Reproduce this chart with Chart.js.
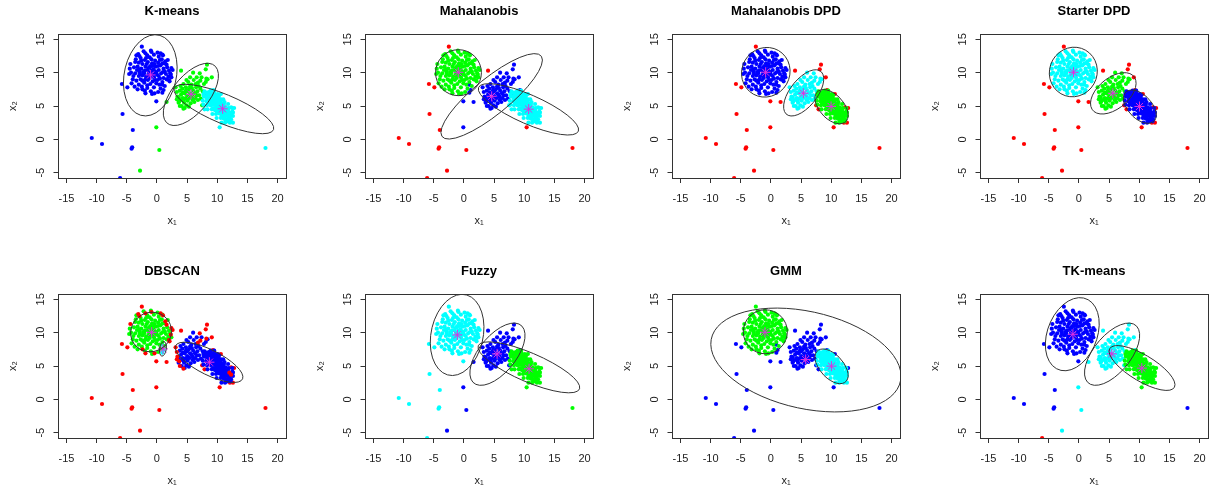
<!DOCTYPE html>
<html>
<head>
<meta charset="utf-8">
<script src="https://cdn.jsdelivr.net/npm/chart.js@4.4.0/dist/chart.umd.min.js"></script>
<style>
  html, body { margin: 0; padding: 0; background: #fff; }
  body { width: 1209px; height: 493px; position: relative; overflow: hidden; }
  canvas { position: absolute; }
</style>
</head>
<body>
<script>
// axis ticks shared by all panels
const xTicks = [-15, -10, -5, 0, 5, 10, 15, 20];
const yTicks = [-5, 0, 5, 10, 15];

// cluster around (-1, 10)
const aCore = [
  [-2.2,13.2],[-1.0,13.3],[0.1,13.0],[-0.5,12.7],[-1.6,12.6],[0.3,12.4],[-2.7,12.2],[-1.2,12.3],
  [-3.5,12.0],[-2.0,11.9],[-0.3,11.8],[0.8,12.0],[-1.5,11.6],[0.2,11.5],[1.2,11.4],[-3.0,11.5],[-2.4,11.3],[-0.8,11.4],
  [-3.8,10.8],[-3.2,10.9],[-1.9,10.9],[-1.1,11.0],[-0.2,10.9],[0.6,11.1],[1.7,10.8],[2.0,10.3],[-2.6,10.6],[-0.6,10.5],
  [0.3,10.4],[1.1,10.6],[-1.6,10.4],[-4.3,10.0],[-3.6,9.9],[-2.9,10.1],[-2.1,9.9],[-1.3,10.0],[-0.8,9.8],[-0.1,10.0],
  [0.7,9.9],[1.5,9.8],[2.2,9.9],[-3.0,9.5],[-1.8,9.4],[-0.5,9.3],[0.3,9.5],[1.1,9.2],[-2.4,9.6],[-1.0,9.6],
  [-4.0,9.0],[-3.4,8.8],[-2.7,9.0],[-1.5,8.9],[-0.7,8.7],[0.1,8.9],[0.9,8.6],[1.6,9.0],[-2.1,8.5],[-1.1,8.3],
  [0.4,8.2],[-3.0,8.2],[-3.7,7.9],[-2.5,7.9],[-1.6,7.7],[-0.5,7.8],[0.6,7.6],[-2.0,7.3],[-1.0,7.2],[0.2,7.1],[-3.2,7.5],
  [-1.4,10.7],[-0.3,10.2],[0.0,9.7],[-2.0,10.3],[-1.2,9.2],[-0.4,11.3],[-2.6,11.8],[0.9,12.7],[-3.6,11.6],
  [-1.8,12.2],[-0.9,12.0],[0.5,11.9],[-2.9,10.5],[-3.9,9.5],[-0.1,8.4],[1.3,10.2],[-1.6,8.1],[-2.4,8.8],[1.9,9.4],
  [-1.7,11.3],[-0.7,11.0],[0.9,11.4],[-2.3,10.1],[-0.4,9.7],[0.5,9.1],[-1.4,9.6],[-2.8,9.8],[-3.3,10.4],[-0.9,10.3],
  [-1.9,9.0],[-0.3,8.9],[1.0,10.1],[-1.2,10.8],[0.2,11.0],[-4.6,9.8],[-4.2,8.4],[-3.4,12.6],[1.8,11.9],[-0.8,6.8],
  [1.3,8.0],[-4.5,10.6],[2.4,9.3]
];
const aRim = [
  [-3.1,12.8],[-2.9,12.5],[-1.9,12.9],[-0.9,13.1],[0.6,12.9],[1.0,12.6],[1.4,11.7],[1.6,11.2],[2.4,10.7],
  [2.6,10.4],[2.3,9.7],[2.0,8.9],[2.1,8.7],[-4.4,11.3],[-2.4,7.5],[-1.9,6.9],[-0.4,6.9]
];

// cluster around (5.5, 7)
const bCore = [
  [5.5,6.9],[5.0,6.5],[6.0,7.3],[4.6,6.9],[5.9,6.4],[5.3,7.5],[6.5,7.8],[4.3,6.2],[5.1,5.8],[6.3,6.9],
  [4.8,7.8],[5.7,8.2],[6.9,8.0],[4.0,6.7],[4.5,5.5],[5.6,5.4],[6.7,7.2],[7.2,7.6],[3.8,7.3],[4.2,7.6],
  [5.2,8.6],[6.1,8.9],[6.6,9.3],[7.4,9.3],[4.9,5.1],[4.1,5.0],[5.9,5.9],[6.4,6.2],[7.0,6.6],[7.6,7.2],
  [3.6,6.3],[4.7,6.1],[5.4,6.2],[6.2,5.6],[5.0,7.2],[5.8,7.7],[4.4,8.3],[3.9,8.0],[6.8,5.9],[7.3,6.1],
  [7.8,8.3],[8.1,8.6],[3.6,5.5],[4.6,4.7],[5.3,4.9],[6.0,10.0],[5.5,9.3],[8.4,9.0],[7.9,6.6],[4.3,7.0],
  [5.7,6.7],[6.4,8.3],[4.9,8.9],[3.9,5.9],[5.2,6.3],[6.1,6.1],[4.8,7.3],[5.5,7.9],[6.6,6.6],[4.4,5.8]
];
const bRim = [
  [3.1,7.8],[3.3,7.1],[3.4,6.4],[3.3,6.0],[3.7,5.7],[3.8,5.0],[4.4,4.6],[6.8,8.5],[7.2,8.8],[7.1,9.9],[8.2,9.1]
];

// cluster around (10, 5)
const cCore = [
  [7.7,6.8],[7.9,7.2],[7.8,6.4],[8.2,6.5],[8.1,7.0],[8.3,6.1],[8.2,5.7],[8.5,6.7],[8.6,6.2],[8.7,5.8],
  [8.5,5.4],[8.6,7.1],[9.0,6.9],[8.9,6.4],[9.1,6.0],[9.0,5.5],[8.9,5.1],[9.2,6.6],[9.4,6.5],[9.3,6.0],
  [9.5,5.6],[9.4,5.2],[9.3,4.7],[9.5,6.9],[9.6,4.4],[9.8,6.3],[9.7,5.8],[9.9,5.4],[9.8,5.0],[9.7,4.6],
  [9.9,4.2],[9.8,6.7],[10.0,5.9],[10.2,6.0],[10.1,5.5],[10.3,5.1],[10.2,4.7],[10.1,4.3],[10.3,3.9],[10.2,6.4],
  [10.0,5.0],[10.4,4.5],[10.6,5.6],[10.5,5.1],[10.7,4.7],[10.6,4.3],[10.5,3.9],[10.7,3.5],[10.6,6.0],[10.8,5.3],
  [11.0,5.2],[10.9,4.7],[11.1,4.3],[11.0,3.9],[10.9,3.5],[11.1,3.1],[11.2,5.6],[11.4,4.8],[11.3,4.3],[11.5,3.9],
  [11.4,3.5],[11.3,3.1],[11.5,2.8],[11.8,4.4],[11.7,3.9],[11.9,3.5],[11.8,3.1],[11.7,2.7],[12.2,3.9],[12.1,3.4],
  [12.3,3.0],[12.2,2.7],[12.6,3.5],[12.5,4.2],[9.6,5.3],[10.4,5.3],[10.0,4.6],[9.2,5.7],[10.8,4.0],[9.7,6.1],
  [10.3,4.1],[11.2,4.5],[8.8,6.0],[10.9,5.0],[9.5,6.2],[10.1,6.8],[9.9,4.9],[10.5,4.7],[11.2,3.7],[9.1,6.3],
  [10.7,4.2],[9.4,5.8],[10.3,5.7],[11.5,4.2],
  [9.5,7.3],[7.7,5.2],[10.3,6.6],[8.4,4.5],[11.0,6.0],[9.2,3.8],[11.8,5.3],[9.9,3.2],[12.5,4.7],[10.7,2.5],
  [9.6,6.6],[8.3,5.1],[10.4,6.0],[9.1,4.5],[11.1,5.3],[9.8,3.8],[11.9,4.7],[10.6,3.2],[12.6,4.0],[11.3,2.5],
  [8.9,7.3],[7.6,5.8]
];
const cRim = [[12.0,4.0],[12.3,3.7]];

// scattered points (last three: the small group near (1, 7.5))
const strays = [
  [-2.5,13.9],[-5.8,8.3],[-4.9,7.8],[-5.7,3.8],[-4.0,1.4],[-10.8,0.2],[-9.1,-0.7],[-4.1,-1.2],[-4.2,-1.4],
  [-0.1,1.8],[0.4,-1.6],[-2.8,-4.7],[-6.1,-5.8],[-0.1,5.7],[1.6,5.6],[4.0,10.3],[8.3,11.2],[8.1,10.5],
  [9.1,9.3],[9.3,7.4],[10.6,6.8],[7.5,5.1],[7.9,4.5],[12.3,4.8],[12.8,4.7],[12.1,2.5],[12.6,2.5],[10.4,1.8],
  [18.0,-1.3],[0.9,8.2],[1.1,7.4],[0.9,7.0]
];

const titles = ['K-means', 'Mahalanobis', 'Mahalanobis DPD', 'Starter DPD', 'DBSCAN', 'Fuzzy', 'GMM', 'TK-means'];

// colour codes for aCore, aRim, bCore, bRim, cCore, cRim
const groupCols = ['bbggcc', 'ggbbcc', 'bbccgg', 'ccggbb', 'grbrbr', 'ccbbgg', 'ggbbcc', 'bbccgg'];
// colour codes for each stray point
const strayCols = [
  'bbbbbbbbbgggbbgggggccgcccccccbbb',
  'rrrrrrrrrbrrrbbrbbbbcccccccrrbbb',
  'rrrrrrrrrrrrrrrrrrrrrrrrrrrrrbbb',
  'rrrrrrrrrrrrrrrrrrrrrrrrrrrrrccc',
  'rrrrrrrrrrrrrrrrrrrrrrrrrrrrrccc',
  'cccccccccbbbccbbbbbbgbgggggggccc',
  'gbbbbbbbbbbbbbbbbbbbbbbcbccbbbbb',
  'bbbbbbbbbcccrbccccccgcggggggbbbb'
];

const centers = [
  [[-1.05,9.66],[5.65,6.77],[10.9,4.58]],
  [[-0.94,10.06],[4.6,6.45],[10.74,4.53]],
  [[-0.88,10.06],[5.38,6.92],[9.97,4.93]],
  [[-0.9,10.06],[5.62,6.92],[10.04,4.93]],
  [[-0.88,10.06],[1.0,7.57],[8.7,5.57]],
  [[-1.1,9.66],[5.5,6.82],[10.8,4.58]],
  [[-0.99,10.06],[5.76,5.97],[10.03,4.98]],
  [[-1.0,9.76],[5.45,6.82],[10.43,4.68]]
];

// [centre x, centre y, semi-major, semi-minor, angle in degrees]
const ellipses = [
  [[-1.1,9.6,6.2,4.3,75],[5.63,6.74,5.85,2.92,46],[11.1,4.55,8.8,2.2,-20.5]],
  [[-0.9,10.0,3.8,3.45,0],[4.6,6.45,10.2,2.8,36],[10.7,4.5,8.9,2.2,-21.5]],
  [[-0.85,10.06,4.05,3.7,15],[5.43,6.97,4.3,2.15,47],[10.05,4.9,3.25,1.9,-41]],
  [[-0.93,10.1,4.0,3.7,15],[5.7,6.9,4.26,2.4,34],[10.1,4.9,3.2,1.85,-40]],
  [[-0.97,10.1,3.4,2.95,10],[1.0,7.57,1.1,0.55,80],[8.65,5.55,6.08,1.9,-24]],
  [[-1.13,9.66,6.2,4.3,75],[5.56,6.77,5.85,2.92,46],[10.77,4.8,9.0,2.2,-21]],
  [[-0.93,10.13,3.65,3.3,0],[5.8,5.9,16.0,7.3,-11],[10.05,4.95,3.3,1.85,-42]],
  [[-1.1,9.77,5.8,4.05,63],[5.5,6.77,5.85,2.92,46],[10.46,4.7,6.1,2.0,-28]]
];

const palette = { b: '#0000ff', g: '#00ff00', c: '#00ffff', r: '#ff0000' };
const font = "'Liberation Sans', Arial, Helvetica, sans-serif";

// box round the plot region, rotated y tick labels, ellipse outlines
const framePlugin = {
  id: 'frame',
  afterDatasetsDraw(chart, args, opts) {
    const { ctx, chartArea: ca, scales: { x, y } } = chart;
    const sx = x.getPixelForValue(1) - x.getPixelForValue(0);
    const sy = y.getPixelForValue(1) - y.getPixelForValue(0);
    ctx.save();
    ctx.beginPath();
    ctx.rect(ca.left, ca.top, ca.right - ca.left, ca.bottom - ca.top);
    ctx.clip();
    ctx.strokeStyle = '#333';
    ctx.lineWidth = 1;
    opts.list.forEach(([cx, cy, a, b, ang]) => {
      ctx.save();
      ctx.translate(x.getPixelForValue(cx), y.getPixelForValue(cy));
      ctx.scale(sx, sy);
      ctx.rotate(ang * Math.PI / 180);
      ctx.beginPath();
      ctx.ellipse(0, 0, a, b, 0, 0, Math.PI * 2);
      ctx.restore();
      ctx.stroke();
    });
    ctx.restore();
  },
  afterDraw(chart) {
    const { ctx, chartArea: ca, scales: { y } } = chart;
    ctx.save();
    ctx.strokeStyle = '#333';
    ctx.lineWidth = 1;
    ctx.strokeRect(Math.round(ca.left) + 0.5, Math.round(ca.top) + 0.5,
      Math.round(ca.right - ca.left), Math.round(ca.bottom - ca.top));
    ctx.fillStyle = '#222';
    ctx.font = '11px ' + font;
    ctx.textAlign = 'center';
    ctx.textBaseline = 'middle';
    y.ticks.forEach(t => {
      ctx.save();
      ctx.translate(40.5, y.getPixelForValue(t.value));
      ctx.rotate(-Math.PI / 2);
      ctx.fillText(String(t.value), 0, 0);
      ctx.restore();
    });
    ctx.restore();
  }
};

titles.forEach((title, i) => {
  const col = i % 4, row = Math.floor(i / 4);
  const cv = document.createElement('canvas');
  cv.width = 307;
  cv.height = 260;
  cv.style.left = Math.round(col * 307.2) + 'px';
  cv.style.top = Math.round(row * 260.3) + 'px';
  document.body.appendChild(cv);

  const pts = [], cols = [];
  strays.forEach((p, k) => { pts.push({ x: p[0], y: p[1] }); cols.push(palette[strayCols[i][k]]); });
  [aCore, aRim, bCore, bRim, cCore, cRim].forEach((g, k) => {
    g.forEach(p => { pts.push({ x: p[0], y: p[1] }); cols.push(palette[groupCols[i][k]]); });
  });

  new Chart(cv, {
    type: 'scatter',
    data: {
      datasets: [
        { data: pts, pointBackgroundColor: cols, pointBorderWidth: 0, pointRadius: 2.1, order: 2 },
        {
          data: centers[i].map(p => ({ x: p[0], y: p[1] })),
          pointStyle: 'star', pointRadius: 5, pointBorderColor: '#e030e0',
          pointBackgroundColor: 'transparent', pointBorderWidth: 1, order: 1
        }
      ]
    },
    options: {
      responsive: false,
      animation: false,
      devicePixelRatio: 1,
      events: [],
      layout: { padding: { left: 0, right: 21, top: 0, bottom: 0 } },
      plugins: {
        legend: { display: false },
        tooltip: { enabled: false },
        title: {
          display: true, text: title, fullSize: false, color: '#000',
          font: { family: font, size: 13, weight: 'bold' },
          padding: { top: 3.5, bottom: 14.9 }
        },
        frame: { list: ellipses[i] }
      },
      scales: {
        x: {
          type: 'linear', min: -16.4, max: 21.4,
          afterBuildTicks: s => { s.ticks = xTicks.map(v => ({ value: v })); },
          afterFit: s => { s.height = 82; },
          border: { display: false },
          grid: { drawOnChartArea: false, drawTicks: true, tickLength: 5, color: '#333' },
          ticks: { font: { family: font, size: 11 }, color: '#222', padding: 9, maxRotation: 0, autoSkip: false },
          title: { display: true, text: 'x₁', color: '#222', font: { family: font, size: 11 }, padding: { top: 0, bottom: 32.5 } }
        },
        y: {
          type: 'linear', min: -5.8, max: 15.8,
          afterBuildTicks: s => { s.ticks = yTicks.map(v => ({ value: v })); },
          afterFit: s => { s.width = 58; },
          border: { display: false },
          grid: { drawOnChartArea: false, drawTicks: true, tickLength: 4.5, color: '#333' },
          ticks: { display: false },
          title: { display: true, text: 'x₂', color: '#222', font: { family: font, size: 11 }, padding: { top: 6, bottom: 0 } }
        }
      }
    },
    plugins: [framePlugin]
  });
});
</script>
</body>
</html>
